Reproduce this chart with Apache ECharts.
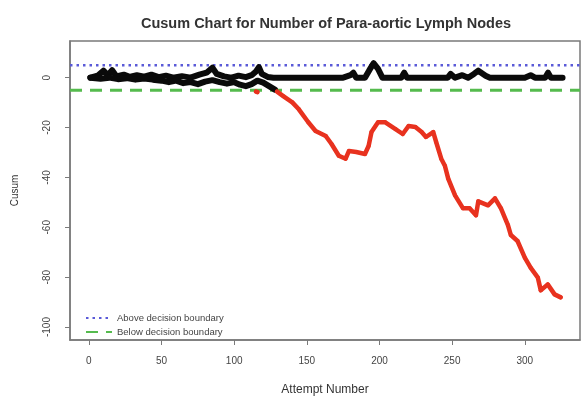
<!DOCTYPE html>
<html>
<head>
<meta charset="utf-8">
<script src="https://cdn.jsdelivr.net/npm/echarts@6/dist/echarts.min.js"></script>
<style>
  html, body { margin: 0; padding: 0; background: #fff; }
  #chart { width: 582px; height: 401px; }
</style>
</head>
<body>
<div id="chart"></div>
<script>
// 读图得到的数据
var xTicks = [0, 50, 100, 150, 200, 250, 300];
var yTicks = [0, -20, -40, -60, -80, -100];
var upperLimit = 5;
var lowerLimit = -5;

// 上侧 cusum (黑)
var upperCusum = [
  [1, 0], [6, 0.8], [10, 2.8], [13, 1], [16, 3], [19, 0.5], [24, 1.2], [28, 0.3],
  [33, 1], [38, 0.4], [43, 1.2], [48, 0.2], [53, 0.8], [58, 0], [64, 0.6], [70, 0],
  [76, 1.2], [81, 2], [85, 4], [88, 1.5], [93, 0.5], [98, 0], [103, 0.8], [108, 0.2],
  [112, 1], [115, 2.5], [117, 4.2], [119, 1.5], [123, 0.3], [127, 0], [175, 0],
  [180, 1], [182, 2], [184, 0], [190, 0], [193, 3], [196, 5.8], [199, 3.5], [202, 0],
  [215, 0], [217, 2], [219, 0], [247, 0], [249, 1.5], [252, 0], [257, 1], [261, 0],
  [265, 1.5], [268, 2.8], [270, 2], [273, 0.8], [276, 0], [300, 0], [304, 1], [307, 0],
  [314, 0], [316, 2], [318, 0], [326, 0]
];

// 下侧 cusum, 边界内 (黑)
var lowerCusum = [
  [1, 0], [8, -0.4], [14, 0], [20, -0.6], [26, -0.2], [32, -0.8], [38, -0.3], [44, -0.8],
  [50, -1.2], [55, -1.8], [60, -1.2], [65, -2.2], [70, -1.8], [75, -2.6], [80, -1.6],
  [85, -1], [90, -1.8], [95, -2.4], [100, -1.8], [104, -2.8], [108, -3.4], [112, -2.6],
  [116, -1.2], [120, -2], [124, -3.4], [128, -4.8]
];

// 下侧 cusum, 越界 (红)
var lowerOut = [
  [115, -5.6], [116, -5.8], [117, '-'],
  [129.5, -5.6], [134, -7.5], [140, -9.9], [144.5, -12.7], [151, -17.9], [156, -21.4],
  [163, -23.4], [167, -26.6], [172, -31.3], [176.7, -32.5], [179, -29.4], [184, -29.8],
  [190, -30.6], [192.5, -27.4], [194.5, -21.8], [199, -17.9], [204, -17.9], [211, -20.6],
  [216, -22.6], [220, -19.4], [224.7, -19.8], [229, -21.8], [232, -23.8], [237, -21.8],
  [239, -25.8], [242.5, -32.5], [245, -35.3], [247.3, -40.5], [252, -47.2], [257.5, -52.4],
  [262, -52.4], [266.4, -55.2], [268, -49.6], [274.7, -51.2], [279.5, -48.4], [283.6, -52.4],
  [288.4, -59.1], [290.4, -63.1], [295, -65.5], [300, -72.2], [304, -76.2], [309, -80.2],
  [311, -85.3], [315.8, -82.9], [320.5, -86.9], [324.7, -88.1]
];

var xRange = [-13, 338];
var yRange = [-105.2, 14.7];

var chart = echarts.init(document.getElementById('chart'), null, { renderer: 'canvas' });

var font = 'Liberation Sans';
var axisGray = '#7a7a7a';

var option = {
  animation: false,
  backgroundColor: '#fff',
  textStyle: { fontFamily: font },
  title: {
    text: 'Cusum Chart for Number of Para-aortic Lymph Nodes',
    left: 321,
    textAlign: 'center',
    top: 11,
    textStyle: { fontFamily: font, fontSize: 14.5, fontWeight: 'bold', color: '#333' }
  },
  grid: {
    left: 70, right: 2, top: 41, bottom: 58,
    show: true, borderColor: axisGray, borderWidth: 1.5, backgroundColor: '#fff'
  },
  legend: {
    left: 80, top: 308, orient: 'vertical', itemGap: 4,
    itemWidth: 26, itemHeight: 8,
    itemStyle: { opacity: 0 },
    textStyle: { fontFamily: font, fontSize: 9.5, color: '#444' },
    data: ['Above decision boundary', 'Below decision boundary']
  },
  xAxis: {
    type: 'value', min: xRange[0], max: xRange[1],
    name: 'Attempt Number', nameLocation: 'middle', nameGap: 44,
    nameTextStyle: { fontFamily: font, fontSize: 12, color: '#333' },
    axisLine: { show: true, onZero: false, lineStyle: { color: axisGray, width: 1.5 } },
    axisTick: { show: true, length: 5, customValues: xTicks, lineStyle: { color: axisGray } },
    axisLabel: { customValues: xTicks, margin: 16, fontSize: 10, color: '#444' },
    splitLine: { show: false }
  },
  yAxis: {
    type: 'value', min: yRange[0], max: yRange[1],
    name: 'Cusum', nameLocation: 'middle', nameGap: 50,
    nameTextStyle: { fontFamily: font, fontSize: 10, color: '#333' },
    axisLine: { show: true, onZero: false, lineStyle: { color: axisGray, width: 1.5 } },
    axisTick: { show: true, length: 5, customValues: yTicks, lineStyle: { color: axisGray } },
    axisLabel: { customValues: yTicks, rotate: 90, margin: 18, fontSize: 10, color: '#444' },
    splitLine: { show: false }
  },
  series: [
    {
      name: 'Above decision boundary', type: 'line', symbol: 'none', silent: true,
      data: [[xRange[0], upperLimit], [xRange[1], upperLimit]],
      itemStyle: { color: '#5a5ad8' },
      lineStyle: { color: '#5a5ad8', width: 2.5, type: [2.5, 4] }
    },
    {
      name: 'Below decision boundary', type: 'line', symbol: 'none', silent: true,
      data: [[xRange[0], lowerLimit], [xRange[1], lowerLimit]],
      itemStyle: { color: '#55bb4e' },
      lineStyle: { color: '#55bb4e', width: 3, type: [12, 8] }
    },
    {
      name: 'upper', type: 'line', symbol: 'none', data: upperCusum,
      lineStyle: { color: '#0a0a0a', width: 6, join: 'round', cap: 'round' }
    },
    {
      name: 'lower', type: 'line', symbol: 'none', data: lowerCusum,
      lineStyle: { color: '#0a0a0a', width: 6, join: 'round', cap: 'round' }
    },
    {
      name: 'out', type: 'line', symbol: 'circle', symbolSize: 4, connectNulls: false,
      data: lowerOut,
      itemStyle: { color: '#e8321f' },
      lineStyle: { color: '#e8321f', width: 4.5, join: 'round', cap: 'round' }
    }
  ]
};

chart.setOption(option);
</script>
</body>
</html>
